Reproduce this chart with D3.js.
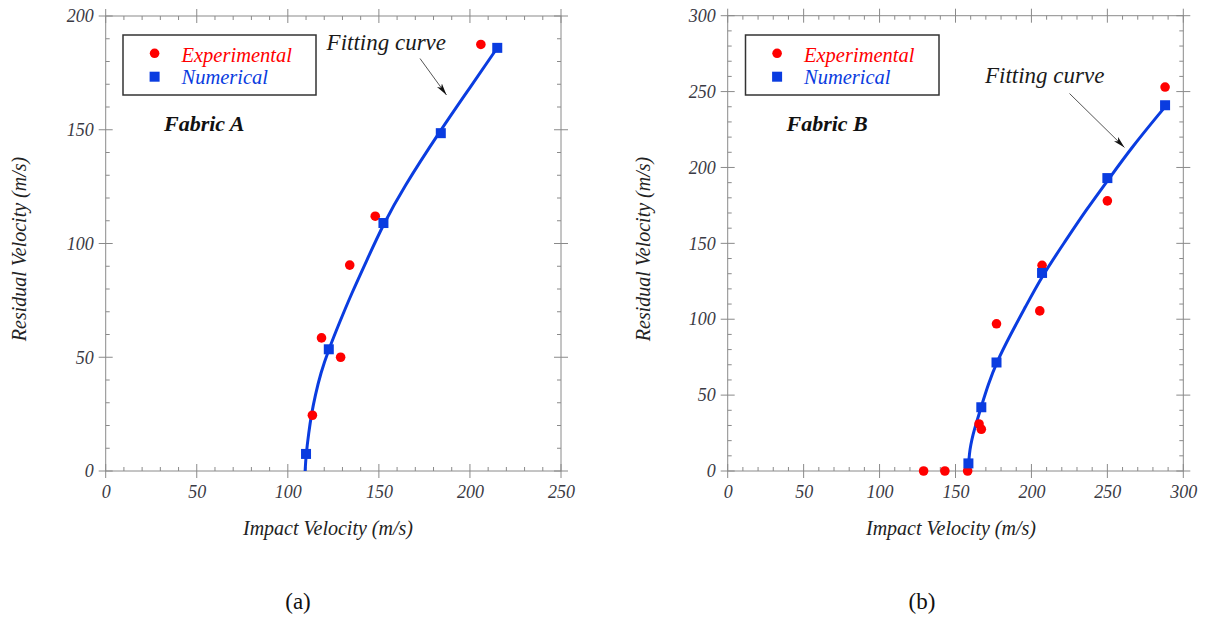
<!DOCTYPE html>
<html><head><meta charset="utf-8">
<script src="https://cdn.jsdelivr.net/npm/d3@7"></script>
<style>
html,body{margin:0;padding:0;background:#fff;}
svg{display:block;}
text{font-family:"Liberation Serif","Times New Roman",serif;}
</style></head>
<body>
<svg id="chart" width="1206" height="619"></svg>
<script>
// ---------- data ----------
const ticksAx = [0, 50, 100, 150, 200, 250];
const ticksAy = [0, 50, 100, 150, 200];
const ticksBx = [0, 50, 100, 150, 200, 250, 300];
const ticksBy = [0, 50, 100, 150, 200, 250, 300];

const expA = [[113.5, 24.5], [118.5, 58.5], [129, 50], [134, 90.5], [148, 112], [206, 187.5]];
const numA = [[110, 7.5], [122.5, 53.5], [152.5, 109], [184, 148.5], [215, 186]];
const fitA = [[109.5, 0], [110, 7], [111.5, 17], [113, 25], [115, 33], [118, 43], [122.5, 53.5],
              [128.5, 65.5], [135, 78], [143, 92], [152.5, 108.5], [163, 124], [184, 150],
              [200, 168.5], [215, 186]];

const expB = [[129, 0], [143, 0], [158, 0], [165.5, 31], [167, 27.5], [177, 97], [205.5, 105.5],
              [207, 135.5], [250, 178], [288, 253]];
const numB = [[158.5, 5], [167, 42], [177, 71.5], [207, 130.5], [250, 193], [288, 241]];
const fitB = [[158.5, 3], [159.2, 12], [160, 17], [161.5, 24], [163.5, 31], [167, 42.5], [171.5, 57],
              [177, 71.5], [186, 89.5], [196, 108], [207, 128.5], [222, 151], [236, 172], [250, 191],
              [265, 212], [288, 240]];

const legendLabels = ["Experimental", "Numerical"];
const panelNames = ["Fabric A", "Fabric B"];
const xTitle = "Impact Velocity (m/s)";
const yTitle = "Residual Velocity (m/s)";
const fitLabel = "Fitting curve";
const captions = ["(a)", "(b)"];

// ---------- styles ----------
const RED = "#ff0000", BLUE = "#0a3ce0", AXIS = "#8a8a8a", TICKTXT = "#3a3a44";

const svg = d3.select("#chart");

const panels = [
  {box: {l: 105.7, r: 561, t: 16, b: 471}, xd: [0, 250], yd: [0, 200], tx: ticksAx, ty: ticksAy,
   exp: expA, num: numA, fit: fitA, name: panelNames[0],
   legend: {x: 123, y: 35, w: 193, h: 60}, nameAt: [164, 130.7],
   fitText: [326.6, 50], arrow: [[420, 58.5], [446.5, 95]],
   xTitleAt: [328, 535], yTitleAt: [19, 249], cap: [298, 601]},
  {box: {l: 727.7, r: 1183.3, t: 15.7, b: 471}, xd: [0, 300], yd: [0, 300], tx: ticksBx, ty: ticksBy,
   exp: expB, num: numB, fit: fitB, name: panelNames[1],
   legend: {x: 745.5, y: 35, w: 193.5, h: 60}, nameAt: [786.5, 130.7],
   fitText: [985, 83.3], arrow: [[1069.5, 93.5], [1124.5, 147.5]],
   xTitleAt: [951, 535], yTitleAt: [643, 249], cap: [922, 601]}
];

const defs = svg.append("defs");
defs.append("marker").attr("id", "arrowhead").attr("viewBox", "0 0 12 6")
  .attr("refX", 12).attr("refY", 3).attr("markerWidth", 12).attr("markerHeight", 6)
  .attr("markerUnits", "userSpaceOnUse").attr("orient", "auto")
  .append("path").attr("d", "M0,0 L12,3 L0,6 L3,3 Z").attr("fill", "#111");

panels.forEach((p, pi) => {
  const g = svg.append("g");
  const x = d3.scaleLinear().domain(p.xd).range([p.box.l, p.box.r]);
  const y = d3.scaleLinear().domain(p.yd).range([p.box.b, p.box.t]);

  g.append("rect").attr("x", p.box.l).attr("y", p.box.t)
    .attr("width", p.box.r - p.box.l).attr("height", p.box.b - p.box.t)
    .attr("fill", "none").attr("stroke", AXIS).attr("stroke-width", 1);

  const minorX = d3.range(p.xd[0], p.xd[1] + 0.001, 10).filter(v => v % 50 !== 0);
  const minorY = d3.range(p.yd[0], p.yd[1] + 0.001, 10).filter(v => v % 50 !== 0);
  const tg = g.append("g").attr("stroke", AXIS).attr("stroke-width", 1);
  const M = 7, m = 4;
  p.tx.forEach(v => {
    tg.append("line").attr("x1", x(v)).attr("x2", x(v)).attr("y1", p.box.b - M).attr("y2", p.box.b + M);
    tg.append("line").attr("x1", x(v)).attr("x2", x(v)).attr("y1", p.box.t - M).attr("y2", p.box.t + M);
  });
  p.ty.forEach(v => {
    tg.append("line").attr("y1", y(v)).attr("y2", y(v)).attr("x1", p.box.l - M).attr("x2", p.box.l + M);
    tg.append("line").attr("y1", y(v)).attr("y2", y(v)).attr("x1", p.box.r - M).attr("x2", p.box.r + M);
  });
  minorX.forEach(v => {
    tg.append("line").attr("x1", x(v)).attr("x2", x(v)).attr("y1", p.box.b).attr("y2", p.box.b - m);
    tg.append("line").attr("x1", x(v)).attr("x2", x(v)).attr("y1", p.box.t).attr("y2", p.box.t + m);
  });
  minorY.forEach(v => {
    tg.append("line").attr("y1", y(v)).attr("y2", y(v)).attr("x1", p.box.l).attr("x2", p.box.l + m);
    tg.append("line").attr("y1", y(v)).attr("y2", y(v)).attr("x1", p.box.r).attr("x2", p.box.r - m);
  });

  const ax = g.append("g").attr("transform", `translate(0,${p.box.b})`)
    .call(d3.axisBottom(x).tickValues(p.tx).tickSize(0).tickPadding(14).tickFormat(d3.format("d")));
  const ay = g.append("g").attr("transform", `translate(${p.box.l},0)`)
    .call(d3.axisLeft(y).tickValues(p.ty).tickSize(0).tickPadding(12).tickFormat(d3.format("d")));
  [ax, ay].forEach(a => {
    a.select(".domain").remove();
    a.selectAll("text").attr("font-family", "'Liberation Serif', serif").attr("font-style", "italic")
      .attr("font-size", 18).attr("fill", TICKTXT);
  });

  const line = d3.line().x(d => x(d[0])).y(d => y(d[1])).curve(d3.curveBasis);
  g.append("path").datum(p.fit).attr("d", line).attr("fill", "none")
    .attr("stroke", BLUE).attr("stroke-width", 3);

  g.selectAll(".exp").data(p.exp).join("circle").attr("class", "exp")
    .attr("cx", d => x(d[0])).attr("cy", d => y(d[1])).attr("r", 4.8).attr("fill", RED);
  g.selectAll(".num").data(p.num).join("rect").attr("class", "num")
    .attr("x", d => x(d[0]) - 5).attr("y", d => y(d[1]) - 5).attr("width", 10).attr("height", 10)
    .attr("fill", BLUE);

  const L = p.legend;
  g.append("rect").attr("x", L.x).attr("y", L.y).attr("width", L.w).attr("height", L.h)
    .attr("fill", "#fff").attr("stroke", "#333").attr("stroke-width", 1.5);
  g.append("circle").attr("cx", L.x + 31.6).attr("cy", L.y + 18.3).attr("r", 4.8).attr("fill", RED);
  g.append("rect").attr("x", L.x + 26.6).attr("y", L.y + 36.7).attr("width", 10).attr("height", 10).attr("fill", BLUE);
  g.append("text").attr("x", L.x + 58.5).attr("y", L.y + 27).text(legendLabels[0])
    .attr("font-style", "italic").attr("font-size", 20.5).attr("fill", RED);
  g.append("text").attr("x", L.x + 58.5).attr("y", L.y + 48.5).text(legendLabels[1])
    .attr("font-style", "italic").attr("font-size", 20.5).attr("fill", BLUE);

  g.append("text").attr("x", p.nameAt[0]).attr("y", p.nameAt[1]).text(p.name)
    .attr("font-family", "Lato, 'Open Sans', sans-serif").attr("font-weight", "bold")
    .attr("font-style", "italic").attr("font-size", 22).attr("fill", "#111");

  g.append("text").attr("x", p.fitText[0]).attr("y", p.fitText[1]).text(fitLabel)
    .attr("font-style", "italic").attr("font-size", 23).attr("fill", "#1a1a1a");
  g.append("line").attr("x1", p.arrow[0][0]).attr("y1", p.arrow[0][1])
    .attr("x2", p.arrow[1][0]).attr("y2", p.arrow[1][1])
    .attr("stroke", "#555").attr("stroke-width", 1).attr("marker-end", "url(#arrowhead)");

  g.append("text").attr("x", p.xTitleAt[0]).attr("y", p.xTitleAt[1]).attr("text-anchor", "middle")
    .text(xTitle).attr("font-style", "italic").attr("font-size", 20).attr("fill", "#222");
  g.append("text").attr("transform", `translate(${p.yTitleAt[0]},${p.yTitleAt[1]}) rotate(-90)`)
    .attr("text-anchor", "middle").attr("dominant-baseline", "central")
    .text(yTitle).attr("font-style", "italic").attr("font-size", 20).attr("fill", "#222");

  g.append("text").attr("x", p.cap[0]).attr("y", p.cap[1]).attr("text-anchor", "middle")
    .attr("dominant-baseline", "central").text(captions[pi])
    .attr("font-size", 23).attr("fill", "#111");
});
</script>
</body></html>
